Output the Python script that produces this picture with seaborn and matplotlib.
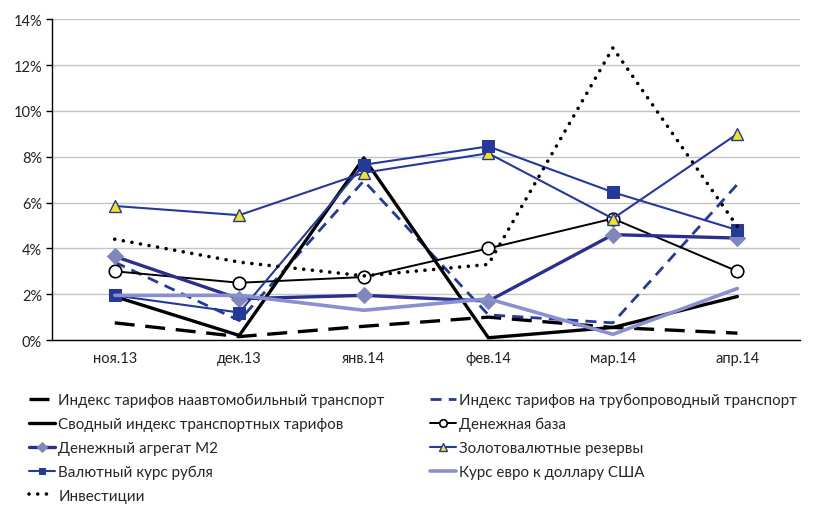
import matplotlib
matplotlib.use("Agg")
import matplotlib.pyplot as plt
import seaborn as sns
import numpy as np
import pandas as pd
from matplotlib.ticker import FuncFormatter, FixedLocator

months = ["ноя.13", "дек.13", "янв.14", "фев.14", "мар.14", "апр.14"]

auto_tariff = [0.75, 0.15, 0.6, 1.0, 0.55, 0.3]
pipe_tariff = [3.4, 0.85, 6.95, 1.1, 0.75, 6.8]
transport_index = [1.9, 0.2, 7.95, 0.1, 0.55, 1.9]
money_base = [3.0, 2.5, 2.75, 4.0, 5.3, 3.0]
m2 = [3.65, 1.8, 1.95, 1.7, 4.6, 4.45]
reserves = [5.85, 5.45, 7.3, 8.15, 5.3, 9.0]
rub_rate = [1.95, 1.2, 7.65, 8.45, 6.45, 4.8]
eur_usd = [1.95, 1.95, 1.3, 1.8, 0.25, 2.25]
investment = [4.4, 3.4, 2.8, 3.3, 12.75, 4.95]

names = [
    "Индекс тарифов наавтомобильный транспорт",
    "Индекс тарифов на трубопроводный транспорт",
    "Сводный индекс транспортных тарифов",
    "Денежная база",
    "Денежный агрегат М2",
    "Золотовалютные резервы",
    "Валютный курс рубля",
    "Курс евро к доллару США",
    "Инвестиции",
]
series = [auto_tariff, pipe_tariff, transport_index, money_base, m2,
          reserves, rub_rate, eur_usd, investment]

BLUE = "#24399a"
styles = [
    dict(color="black", lw=2.4, dashes=(6, 3.2)),
    dict(color=BLUE, lw=2.0, dashes=(4, 2.6)),
    dict(color="black", lw=2.4),
    dict(color="black", lw=1.4, marker="o", ms=9, mfc="white", mec="black", mew=1.2),
    dict(color="#2a2f8f", lw=2.4, marker="D", ms=8, mfc="#7f87bd", mec="#7f87bd"),
    dict(color=BLUE, lw=1.5, marker="^", ms=9, mfc="#f2e51d", mec=BLUE, mew=1.0),
    dict(color=BLUE, lw=1.5, marker="s", ms=8, mfc=BLUE, mec=BLUE),
    dict(color="#8a8fcf", lw=2.6),
    dict(color="black", lw=2.6, dashes=(0.01, 2.4), dash_capstyle="round"),
]

df = pd.DataFrame({"x": np.tile(np.arange(len(months)), len(names)),
                   "value": np.concatenate(series),
                   "series": np.repeat(names, len(months))})

sns.set_style("white")
plt.rcParams["font.family"] = ["Lato", "DejaVu Sans"]

fig = plt.figure(figsize=(8.33, 5.06), dpi=100)
ax = fig.add_axes([0.063, 0.326, 0.897, 0.634])

handles = []
for name, st in zip(names, styles):
    st = dict(st)
    dashes = st.pop("dashes", None)
    capstyle = st.pop("dash_capstyle", None)
    sub = df[df["series"] == name]
    sns.lineplot(data=sub, x="x", y="value", ax=ax, color=st.pop("color"),
                 linewidth=st.pop("lw"), legend=False, **st)
    line = ax.lines[-1]
    if dashes is not None:
        line.set_dashes(dashes)
    if capstyle:
        line.set_dash_capstyle(capstyle)
    handles.append(line)

ax.set_xlim(-0.5, len(months) - 0.5)
ax.set_ylim(0, 14)
ax.set_yticks(np.arange(0, 15, 2))
ax.yaxis.set_major_formatter(FuncFormatter(lambda v, _: f"{v:.0f}%"))
ax.yaxis.grid(True, color="#c4c4c4", linewidth=1.0)
ax.set_axisbelow(True)
ax.set_xticks(range(len(months)))
ax.set_xticklabels(months)
ax.xaxis.set_minor_locator(FixedLocator(np.arange(-0.5, len(months), 1.0)))
ax.tick_params(axis="x", which="major", length=0, pad=8, labelsize=10.5, labelcolor="#222222")
ax.tick_params(axis="x", which="minor", length=5, width=1, color="black", direction="out")
ax.tick_params(axis="y", length=4, width=1, color="black", direction="out",
               labelsize=10.5, labelcolor="#222222", left=True)
ax.set_xlabel("")
ax.set_ylabel("")
for side in ("top", "right"):
    ax.spines[side].set_visible(False)
for side in ("left", "bottom"):
    ax.spines[side].set_color("black")
    ax.spines[side].set_linewidth(1.0)

order = [0, 2, 4, 6, 8, 1, 3, 5, 7]
fig.legend([handles[i] for i in order], [names[i] for i in order],
           loc="upper left", bbox_to_anchor=(0.028, 0.233), ncol=2, frameon=False,
           fontsize=10.9, handlelength=1.7, handletextpad=0.2, columnspacing=3.0,
           labelspacing=0.64, borderaxespad=0, markerscale=0.6)

fig.savefig("out.png", dpi=100)
